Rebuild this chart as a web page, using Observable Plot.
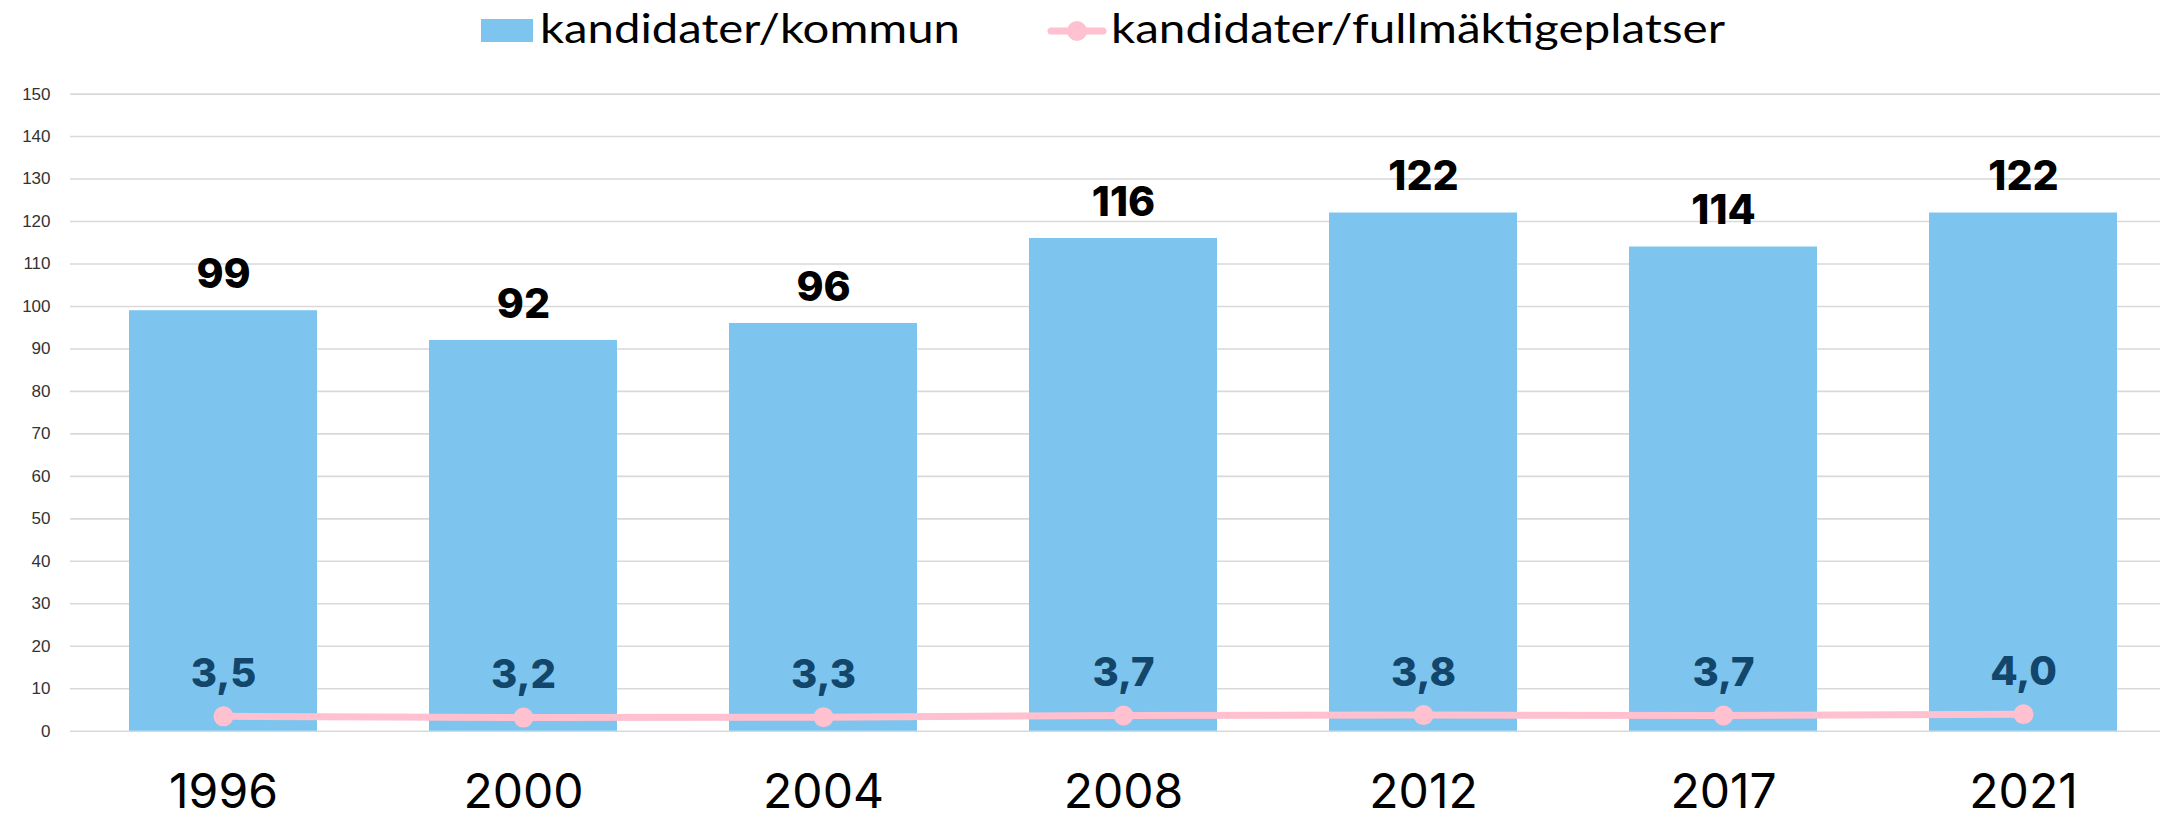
<!DOCTYPE html>
<html>
<head>
<meta charset="utf-8">
<script src="https://cdn.jsdelivr.net/npm/d3@7"></script>
<script src="https://cdn.jsdelivr.net/npm/@observablehq/plot@0.6"></script>
<style>
  body { margin: 0; background: #fff; overflow: hidden; }
  #legend { display: block; }
  #chart { width: 2160px; overflow: hidden; }
  #chart svg { display: block; max-width: none !important; }
</style>
</head>
<body>
<svg id="legend" width="2160" height="52"></svg>
<div id="chart"></div>
<script>
const years = ["1996", "2000", "2004", "2008", "2012", "2017", "2021"];
const perKommun = [99, 92, 96, 116, 122, 114, 122];
const perPlats = [3.5, 3.2, 3.3, 3.7, 3.8, 3.7, 4.0];
const yTicks = [0, 10, 20, 30, 40, 50, 60, 70, 80, 90, 100, 110, 120, 130, 140, 150];
const seriesNames = ["kandidater/kommun", "kandidater/fullmäktigeplatser"];

const barColor = "#7dc5ee";
const lineColor = "#ffc0cf";
const labelDark = "#12466a";

const data = years.map((y, i) => ({year: y, kommun: perKommun[i], plats: perPlats[i]}));
const fmt = v => v.toFixed(1).replace(".", ",");

// legend
const lg = d3.select("#legend");
lg.append("rect").attr("x", 481).attr("y", 19).attr("width", 52).attr("height", 23).attr("fill", barColor);
lg.append("text").attr("x", 540).attr("y", 43).attr("font-family", "Lato, 'Open Sans', sans-serif")
  .attr("font-size", 41).attr("fill", "#000").attr("textLength", 420).attr("lengthAdjust", "spacingAndGlyphs")
  .text(seriesNames[0]);
lg.append("line").attr("x1", 1051).attr("x2", 1103).attr("y1", 31).attr("y2", 31)
  .attr("stroke", lineColor).attr("stroke-width", 7).attr("stroke-linecap", "round");
lg.append("circle").attr("cx", 1077).attr("cy", 31).attr("r", 10).attr("fill", lineColor);
lg.append("text").attr("x", 1111).attr("y", 43).attr("font-family", "Lato, 'Open Sans', sans-serif")
  .attr("font-size", 41).attr("fill", "#000").attr("textLength", 614).attr("lengthAdjust", "spacingAndGlyphs")
  .text(seriesNames[1]);

const chart = Plot.plot({
  width: 2176,
  height: 765,
  marginLeft: 70,
  marginRight: 0,
  marginTop: 41.6,
  marginBottom: 86.3,
  x: {domain: years, paddingInner: 0.375, paddingOuter: 0.1875, label: null},
  y: {domain: [0, 150], label: null},
  style: {background: "#fff", maxWidth: "none"},
  marks: [
    Plot.ruleY(yTicks, {stroke: "#d9d9d9", strokeWidth: 1.6}),
    Plot.axisY({ticks: yTicks, tickSize: 0, tickPadding: 20, fontSize: 17, fill: "#333", fontFamily: "'Liberation Sans', Arial, sans-serif", label: null}),
    Plot.axisX({tickSize: 0, tickPadding: 43, fontSize: 48, fill: "#000", fontFamily: "Inter, Lato, sans-serif", label: null}),
    Plot.barY(data, {x: "year", y: "kommun", fill: barColor}),
    Plot.line(data, {x: "year", y: "plats", stroke: lineColor, strokeWidth: 7}),
    Plot.dot(data, {x: "year", y: "plats", r: 10, fill: lineColor}),
    Plot.text(data, {x: "year", y: "kommun", text: d => String(d.kommun), dy: -36, fontSize: 41, fontWeight: 800, fill: "#000", fontFamily: "Inter, 'Open Sans', sans-serif"}),
    Plot.text(data, {x: "year", y: "plats", text: d => fmt(d.plats), dy: -42, fontSize: 40, fontWeight: 800, fill: labelDark, fontFamily: "Inter, 'Open Sans', sans-serif"})
  ]
});
document.getElementById("chart").appendChild(chart);
</script>
</body>
</html>
